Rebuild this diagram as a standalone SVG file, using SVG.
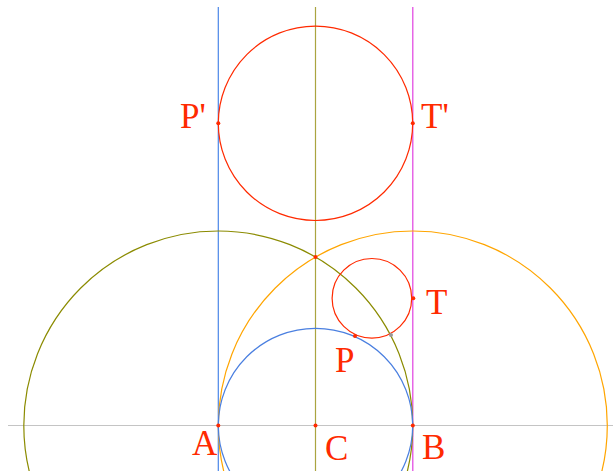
<svg xmlns="http://www.w3.org/2000/svg" width="613" height="471" viewBox="0 0 613 471">
<style>
.lbl{font-family:"Liberation Serif","Times New Roman",serif;font-size:35px;fill:#ff2a00}
.dot{fill:#ff2a00}
.c{fill:none;stroke-width:1.2}
.l{stroke-width:1.2}
</style>
<rect width="613" height="471" fill="#fff"/>
<g id="connectors">
<line class="l" x1="8" y1="425.5" x2="613" y2="425.5" stroke="#c4c4c4"/>
<line class="l" x1="218.3" y1="7" x2="218.3" y2="471" stroke="#4a86e8"/>
<line class="l" x1="315.5" y1="7" x2="315.5" y2="471" stroke="#aaa440"/>
<line class="l" x1="412.8" y1="7" x2="412.8" y2="471" stroke="#e040e0"/>
<circle class="c" cx="218.3" cy="425.5" r="194.5" stroke="#8b8b00"/>
<circle class="c" cx="412.8" cy="425.5" r="194.5" stroke="#ffa500"/>
<circle class="c" cx="315.5" cy="425.5" r="97.2" stroke="#4a7fe0"/>
<circle class="c" cx="371.9" cy="298.3" r="39.8" stroke="#ff2a00"/>
<circle class="c" cx="315.5" cy="123.3" r="97.2" stroke="#ff2a00" stroke-width="1.5"/>
<circle cx="315.5" cy="257" r="2" class="dot"/>
<circle cx="391" cy="335" r="2" fill="#999"/>
</g>
<g id="node-A"><circle cx="218.3" cy="425.5" r="2" class="dot"/><text class="lbl" x="192" y="455">A</text></g>
<g id="node-B"><circle cx="412.8" cy="425.5" r="2" class="dot"/><text class="lbl" x="422" y="459">B</text></g>
<g id="node-C"><circle cx="315.5" cy="425.5" r="2" class="dot"/><text class="lbl" x="325" y="460">C</text></g>
<g id="node-P"><circle cx="355" cy="336" r="2" class="dot"/><text class="lbl" x="335" y="372">P</text></g>
<g id="node-T"><circle cx="413.3" cy="298.3" r="2" class="dot"/><text class="lbl" x="426" y="314">T</text></g>
<g id="node-P2"><circle cx="218.3" cy="123.3" r="2" class="dot"/><text class="lbl" x="180" y="128">P'</text></g>
<g id="node-T2"><circle cx="412.8" cy="123.3" r="2" class="dot"/><text class="lbl" x="421" y="128">T'</text></g>
</svg>
